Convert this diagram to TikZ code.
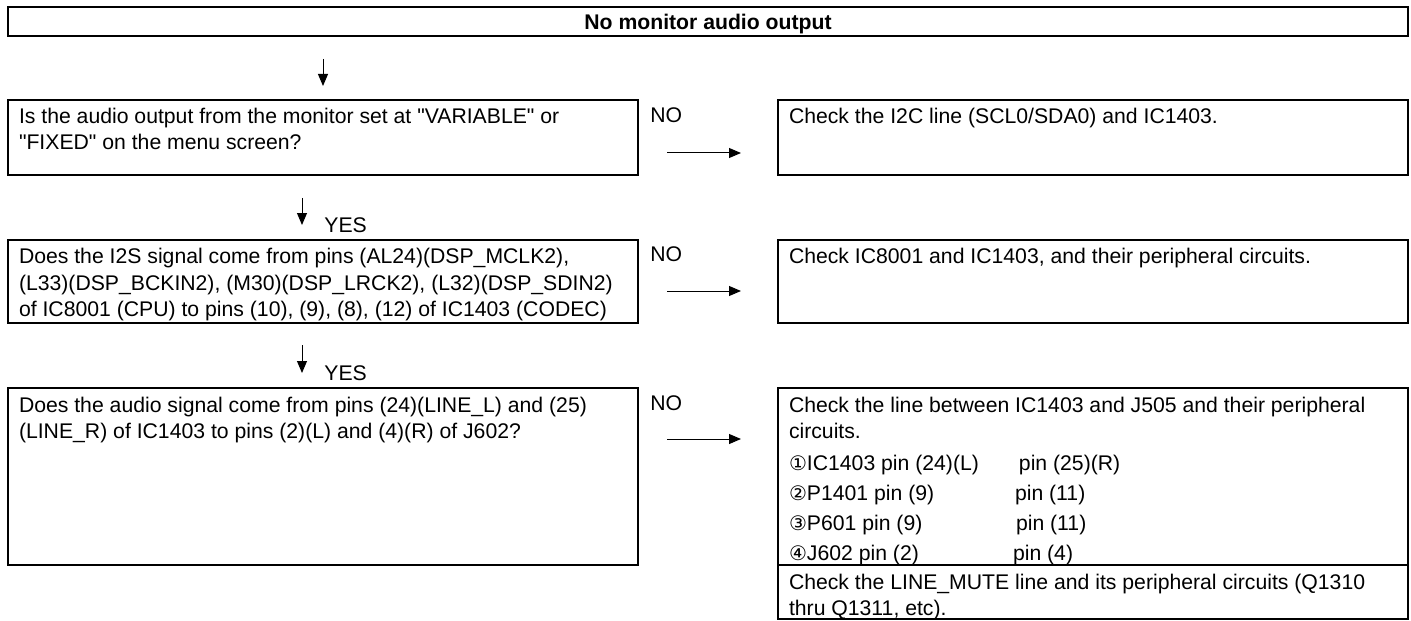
\documentclass[tikz,border=0pt]{standalone}
\usepackage{fontspec}
\setmainfont{Liberation Sans}
\newfontfamily\dejavu{DejaVu Sans}
\usetikzlibrary{arrows.meta,positioning}
\newcommand{\cnum}[1]{{\dejavu\fontsize{10}{10}\selectfont #1}}
\newcommand{\dq}{\XeTeXglyph\XeTeXcharglyph"22\relax}
\newcommand{\boxtxt}[2]{\parbox[c][#1][t]{304pt}{\raggedright\strut #2}}

\begin{document}
\begin{tikzpicture}[x=0.5pt,y=-0.5pt,
    chkbox/.style={draw,line width=1pt,anchor=north west,inner xsep=5.5pt,inner ysep=2.9pt,font=\fontsize{10.6}{13}\selectfont},
    lbl/.style={anchor=base west,inner sep=0pt,font=\fontsize{10.6}{13}\selectfont},
    arr/.style={-{Triangle[length=6pt,width=5pt]},line width=0.5pt}]
  \useasboundingbox (0,0) rectangle (1411,620);
  \node[draw,line width=1pt,anchor=north west,minimum width=700pt,minimum height=14.5pt,inner sep=0pt,text height=7.6pt,text depth=0pt,font=\fontsize{10.6}{13}\selectfont\bfseries] (top) at (7,6) {No monitor audio output};
  % questions
  \node[chkbox] (q1) at (7,99) {\boxtxt{31.7pt}{Is the audio output from the monitor set at \dq VARIABLE\dq{} or\\ \dq FIXED\dq{} on the menu screen?}};
  \node[chkbox] (q2) at (7,239) {\boxtxt{35.7pt}{Does the I2S signal come from pins (AL24)(DSP\_MCLK2),\\ (L33)(DSP\_BCKIN2), (M30)(DSP\_LRCK2), (L32)(DSP\_SDIN2)\\ of IC8001 (CPU) to pins (10), (9), (8), (12) of IC1403 (CODEC)}};
  \node[chkbox] (q3) at (7,387) {\boxtxt{82.7pt}{Does the audio signal come from pins (24)(LINE\_L) and (25)\\ (LINE\_R) of IC1403 to pins (2)(L) and (4)(R) of J602?}};
  % actions
  \node[chkbox,right=69pt of q1.north east,anchor=north west] (a1) {\boxtxt{31.7pt}{Check the I2C line (SCL0/SDA0) and IC1403.}};
  \node[chkbox,right=69pt of q2.north east,anchor=north west] (a2) {\boxtxt{35.7pt}{Check IC8001 and IC1403, and their peripheral circuits.}};
  \node[chkbox,right=69pt of q3.north east,anchor=north west] (a3) {\boxtxt{82.7pt}{Check the line between IC1403 and J505 and their peripheral\\ circuits.\\[3pt]
    \makebox[115pt][l]{\cnum{①}IC1403 pin (24)(L)}pin (25)(R)\\[2pt]
    \makebox[113pt][l]{\cnum{②}P1401 pin (9)}pin (11)\\[2pt]
    \makebox[113.5pt][l]{\cnum{③}P601 pin (9)}pin (11)\\[2pt]
    \makebox[112pt][l]{\cnum{④}J602 pin (2)}pin (4)}};
  \node[chkbox,below=-1pt of a3.south west,anchor=north west] (a4) {\boxtxt{21pt}{Check the LINE\_MUTE line and its peripheral circuits (Q1310\\ thru Q1311, etc).}};
  % labels
  \node[lbl] (no1) at ([xshift=5.5pt,yshift=-12pt]q1.north east) {NO};
  \node[lbl] (no2) at ([xshift=5.5pt,yshift=-11pt]q2.north east) {NO};
  \node[lbl] (no3) at ([xshift=5.5pt,yshift=-11.5pt]q3.north east) {NO};
  \node[lbl] (yes1) at ([xshift=0.5pt,yshift=3.5pt]q2.north) {YES};
  \node[lbl] (yes2) at ([xshift=0.5pt,yshift=3.5pt]q3.north) {YES};
  % connectors
  \draw[arr,shorten <=11pt,shorten >=6.5pt] (q1.north |- top.south) -- (q1.north);
  \draw[arr,shorten <=11pt,shorten >=7pt] ([xshift=-10.5pt]q1.south) -- ([xshift=-10.5pt]q2.north);
  \draw[arr,shorten <=10.5pt,shorten >=7pt] ([xshift=-10.5pt]q2.south) -- ([xshift=-10.5pt]q3.north);
  \foreach \q/\a/\dy in {q1/a1/27pt,q2/a2/26pt,q3/a3/26pt}{\draw[arr,shorten <=14pt,shorten >=18pt] ([yshift=-\dy]\q.north east) -- ([yshift=-\dy]\a.north west);}
\end{tikzpicture}
\end{document}
